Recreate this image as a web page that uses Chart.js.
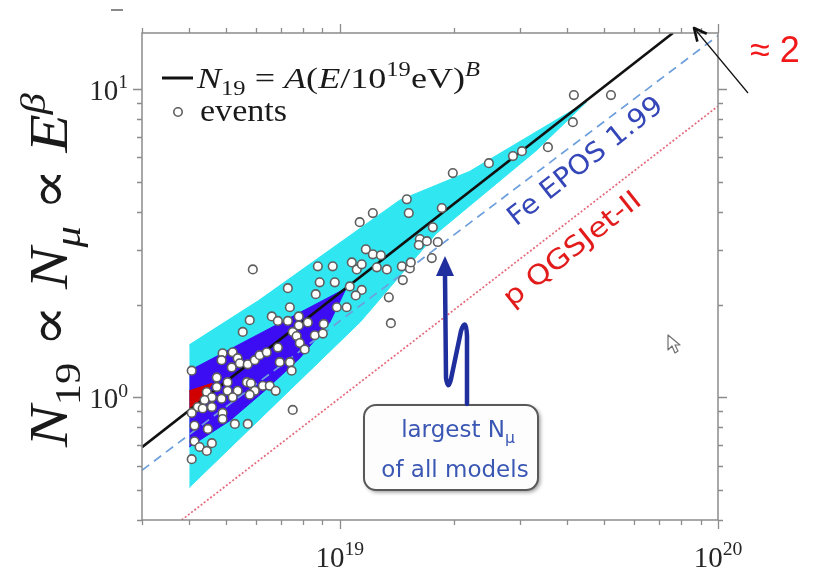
<!DOCTYPE html>
<html>
<head>
<meta charset="utf-8">
<script src="https://cdn.jsdelivr.net/npm/chart.js@4/dist/chart.umd.min.js"></script>
<style>
  html, body { margin: 0; padding: 0; background: #ffffff; }
  #wrap { width: 813px; height: 571px; position: relative; }
</style>
</head>
<body>
<div id="wrap"><canvas id="c" width="813" height="571"></canvas></div>
<script>
// ---- data -----------------------------------------------------------------
// Reconstructed air-shower events: energy (EeV) and normalised muon number N19
const eventEnergyEeV = [
  7.38, 9.82, 10.43, 5.78, 6.61, 6.86, 7.29, 7.79, 7.79, 8.23, 9.07, 5.54, 7.51, 7.69, 8.59, 9.02,
  7.84, 8.08, 6.86, 4.90, 5.21, 5.37, 4.87, 5.18, 5.44, 5.71, 5.96, 6.14, 6.41, 6.94, 7.38, 7.46,
  4.06, 4.73, 5.05, 5.68, 5.82, 4.73, 4.45, 5.05, 5.37, 5.96, 6.26, 6.53, 6.77, 4.59, 4.87, 5.21,
  5.78, 4.39, 4.21, 4.34, 4.59, 4.90, 7.51, 4.13, 4.48, 5.28, 5.71, 4.90, 4.13, 4.26, 4.59, 4.45,
  4.06, 4.06,
  5.89, 7.29, 8.75, 9.58, 8.85, 9.70, 8.64, 10.76, 11.09, 11.43, 11.72, 12.23, 12.84, 12.53, 13.32,
  14.59, 15.32, 15.41, 14.68, 10.63, 11.43, 11.02, 13.48, 11.29, 12.23, 15.22, 15.04, 16.28, 16.99,
  16.18, 17.62, 17.51, 19.90, 18.61, 18.16, 13.65,
  41.59, 52.12, 41.33, 35.51, 30.31, 28.70, 24.79
];
const eventN19 = [
  1.96, 1.96, 1.96, 1.78, 1.83, 1.77, 1.77, 1.83, 1.71, 1.75, 1.73, 1.63, 1.63, 1.58, 1.59, 1.61,
  1.50, 1.43, 1.45, 1.39, 1.40, 1.34, 1.32, 1.25, 1.29, 1.28, 1.32, 1.37, 1.40, 1.30, 1.30, 1.22,
  1.22, 1.16, 1.12, 1.12, 1.11, 1.08, 1.04, 1.05, 1.05, 1.05, 1.09, 1.09, 1.05, 1.00, 0.99, 1.00,
  1.02, 0.98, 0.93, 0.92, 0.93, 0.89, 0.91, 0.81, 0.79, 0.82, 0.82, 0.85, 0.72, 0.69, 0.71, 0.67,
  0.63, 0.89,
  2.60, 2.26, 2.66, 2.66, 2.36, 2.36, 2.16, 2.74, 2.60, 2.70, 3.02, 2.91, 2.89, 2.64, 2.60,
  2.66, 2.62, 2.74, 2.40, 2.29, 2.23, 2.14, 2.11, 3.70, 3.96, 3.96, 4.39, 3.26, 3.21,
  3.12, 3.56, 2.83, 5.34, 4.11, 3.19, 1.74,
  9.56, 9.56, 7.81, 6.48, 6.29, 6.06, 5.75
];

// Power-law fit N19 = A (E/10^19 eV)^B, end points (eV, N19)
const fitEnergy = [3.0e18, 7.6e19];
const fitN19 = [0.689, 15.2];

// Model expectations (eV, N19)
const feEposEnergy = [3.0e18, 1.0e20];
const feEposN19 = [0.58, 14.9];
const pQgsEnergy = [3.82e18, 1.0e20];
const pQgsN19 = [0.40, 8.8];

// Systematic bands (eV, N19): upper and lower edges
const outerUpperE = [4.0e18, 6.1e18, 1.44e19, 2.2e19, 4.5e19];
const outerUpperN = [1.48, 2.06, 4.36, 5.4, 9.1];
const outerLowerE = [4.0e18, 1.13e19, 1.8e19, 3.3e19, 4.5e19];
const outerLowerN = [0.51, 1.75, 3.4, 6.3, 9.1];

const innerUpperE = [4.0e18, 1.04e19];
const innerUpperN = [1.22, 2.26];
const innerLowerE = [4.0e18, 5.12e18, 6.33e18, 7.84e18, 9.41e18, 1.04e19];
const innerLowerN = [0.69, 0.84, 1.05, 1.34, 1.75, 2.26];

const coreUpperE = [4.0e18, 4.6e18];
const coreUpperN = [1.05, 1.11];
const coreLowerE = [4.0e18, 4.3e18, 4.6e18];
const coreLowerN = [0.89, 0.97, 1.11];

// Axis ranges and labelled decades
const xRange = [3.0e18, 1.0e20];
const yRange = [0.4, 15.2];
const xLabelValues = [1e19, 1e20];
const xLabelExponents = ['19', '20'];
const yLabelValues = [1, 10];
const yLabelExponents = ['0', '1'];

// ---- helpers --------------------------------------------------------------
const SERIF = '"Liberation Serif", "DejaVu Serif", serif';
const SANS = '"DejaVu Sans", Verdana, sans-serif';

const pts = (xs, ys, f = 1) => xs.map((x, i) => ({ x: x * f, y: ys[i] }));

function logTicks(min, max) {
  const out = [];
  for (let d = Math.floor(Math.log10(min)); d <= Math.ceil(Math.log10(max)); d++) {
    for (let m = 1; m <= 9; m++) {
      const v = m * Math.pow(10, d);
      if (v >= min * 0.999 && v <= max * 1.001) out.push({ value: v, major: m === 1 });
    }
  }
  return out;
}

function partFont(p, F, fam) {
  const size = (p.sub || p.sup) ? F * 0.68 : F;
  return (p.it ? 'italic ' : '') + size.toFixed(2) + 'px ' + (p.fam || fam);
}
function runWidth(ctx, parts, F, fam) {
  let w = 0;
  for (const p of parts) { ctx.font = partFont(p, F, fam); w += ctx.measureText(p.t).width; }
  return w;
}
function drawRun(ctx, parts, x, y, F, fam) {
  let cx = x;
  for (const p of parts) {
    ctx.font = partFont(p, F, fam);
    const dy = p.sub ? F * 0.24 : (p.sup ? -F * 0.40 : 0);
    ctx.fillText(p.t, cx, y + dy);
    cx += ctx.measureText(p.t).width;
  }
  return cx - x;
}
// draw a rich run stretched horizontally to a given width, starting at x
function drawRunFit(ctx, parts, x, y, F, fam, width) {
  const w = runWidth(ctx, parts, F, fam);
  ctx.save();
  ctx.translate(x, y);
  ctx.scale(width / w, 1);
  drawRun(ctx, parts, 0, 0, F, fam);
  ctx.restore();
}

// ---- custom drawing: frame, ticks, labels, legend and notes ---------------
const decor = {
  id: 'decor',
  afterDatasetsDraw(chart) {
    const ctx = chart.ctx;
    const xs = chart.scales.x, ys = chart.scales.y;
    const a = chart.chartArea;
    ctx.save();
    ctx.textBaseline = 'alphabetic';

    // frame
    ctx.strokeStyle = '#8c8c8c';
    ctx.lineWidth = 1.5;
    ctx.strokeRect(a.left, a.top, a.right - a.left, a.bottom - a.top);

    // outward tick marks on all four sides
    ctx.lineWidth = 1.3;
    ctx.beginPath();
    for (const t of xs.ticks) {
      const px = Math.round(xs.getPixelForValue(t.value)) + 0.5;
      const L = t.major ? 9 : 5;
      ctx.moveTo(px, a.bottom); ctx.lineTo(px, a.bottom + L);
      ctx.moveTo(px, a.top); ctx.lineTo(px, a.top - L);
    }
    for (const t of ys.ticks) {
      const py = Math.round(ys.getPixelForValue(t.value)) + 0.5;
      const L = t.major ? 9 : 5;
      ctx.moveTo(a.left, py); ctx.lineTo(a.left - L, py);
      ctx.moveTo(a.right, py); ctx.lineTo(a.right + L, py);
    }
    ctx.stroke();

    // tick labels 10^n
    ctx.fillStyle = '#262626';
    const TF = 29;
    xLabelValues.forEach((v, i) => {
      const parts = [{ t: '10' }, { t: xLabelExponents[i], sup: true }];
      const w = runWidth(ctx, parts, TF, SERIF);
      const px = xs.getPixelForValue(v);
      drawRun(ctx, parts, px - w / 2, 567, TF, SERIF);
    });
    yLabelValues.forEach((v, i) => {
      const parts = [{ t: '10' }, { t: yLabelExponents[i], sup: true }];
      const w = runWidth(ctx, parts, TF, SERIF);
      const py = ys.getPixelForValue(v);
      drawRun(ctx, parts, 128 - w, py + 11, TF, SERIF);
    });

    // y-axis title, reading upward
    ctx.fillStyle = '#1a1a1a';
    const title = [
      { t: 'N', it: true }, { t: '19', sub: true }, { t: ' \u221D ' },
      { t: 'N', it: true }, { t: '\u03BC', it: true, sub: true }, { t: ' \u221D ' },
      { t: 'E', it: true }, { t: '\u03B2', it: true, sup: true }
    ];
    const TTF = 54;
    const tw = runWidth(ctx, title, TTF, SERIF);
    ctx.save();
    ctx.translate(67, 270);
    ctx.rotate(-Math.PI / 2);
    ctx.scale(354 / tw, 1);
    drawRun(ctx, title, -tw / 2, 0, TTF, SERIF);
    ctx.restore();

    // legend
    ctx.strokeStyle = '#111111';
    ctx.lineWidth = 3;
    ctx.beginPath(); ctx.moveTo(162, 78); ctx.lineTo(193, 78); ctx.stroke();
    ctx.fillStyle = '#1a1a1a';
    const legFit = [
      { t: 'N', it: true }, { t: '19', sub: true }, { t: ' = ' }, { t: 'A', it: true }, { t: '(' },
      { t: 'E', it: true }, { t: '/10' }, { t: '19', sup: true }, { t: 'eV)' }, { t: 'B', it: true, sup: true }
    ];
    drawRunFit(ctx, legFit, 197, 88, 30, SERIF, 283);
    ctx.beginPath(); ctx.arc(178, 112, 4.2, 0, Math.PI * 2);
    ctx.fillStyle = '#ffffff'; ctx.fill();
    ctx.lineWidth = 1.6; ctx.strokeStyle = '#5e5e5e'; ctx.stroke();
    ctx.fillStyle = '#1a1a1a';
    drawRunFit(ctx, [{ t: 'events' }], 200, 121, 31, SERIF, 87);

    // model labels along the lines
    const rotText = (txt, cx, cy, ang, F, color, L) => {
      ctx.save();
      ctx.translate(cx, cy);
      ctx.rotate(ang);
      ctx.font = F + 'px ' + SANS;
      const w = ctx.measureText(txt).width;
      ctx.scale(L / w, 1);
      ctx.fillStyle = color;
      ctx.textAlign = 'center';
      ctx.textBaseline = 'middle';
      ctx.fillText(txt, 0, 0);
      ctx.restore();
    };
    rotText('Fe EPOS 1.99', 586, 162, -38.5 * Math.PI / 180, 27, '#3446b8', 190);
    rotText('p QGSJet-II', 573, 250, -38.5 * Math.PI / 180, 27, '#e21b1b', 168);

    // note box with squiggly arrow
    ctx.save();
    ctx.shadowColor = 'rgba(0,0,0,0.45)';
    ctx.shadowBlur = 4; ctx.shadowOffsetX = 2; ctx.shadowOffsetY = 2;
    ctx.beginPath();
    ctx.roundRect(364, 405, 174, 85, 12);
    ctx.fillStyle = '#fdfdfd'; ctx.fill();
    ctx.restore();
    ctx.beginPath();
    ctx.roundRect(364, 405, 174, 85, 12);
    ctx.lineWidth = 2; ctx.strokeStyle = '#595959'; ctx.stroke();

    ctx.fillStyle = '#3a57b4';
    const boxF = 23;
    const l1 = [{ t: 'largest N' }, { t: '\u03BC', sub: true }];
    const l2 = [{ t: 'of all models' }];
    const w1 = runWidth(ctx, l1, boxF, SANS), w2 = runWidth(ctx, l2, boxF, SANS);
    drawRun(ctx, l1, 458 - w1 / 2, 437, boxF, SANS);
    drawRun(ctx, l2, 455 - w2 / 2, 477, boxF, SANS);

    ctx.strokeStyle = '#1f2f9e';
    ctx.lineWidth = 4.5;
    ctx.lineCap = 'round'; ctx.lineJoin = 'round';
    ctx.beginPath();
    ctx.moveTo(467, 404);
    ctx.lineTo(467, 336);
    ctx.quadraticCurveTo(466, 316, 461, 331);
    ctx.lineTo(451, 379);
    ctx.quadraticCurveTo(448, 392, 446, 378);
    ctx.lineTo(445, 274);
    ctx.stroke();
    ctx.beginPath();
    ctx.moveTo(445, 256); ctx.lineTo(436, 276); ctx.lineTo(454, 276); ctx.closePath();
    ctx.fillStyle = '#1f2f9e'; ctx.fill();

    // slope note at top right
    ctx.fillStyle = '#f01818';
    ctx.font = '36px "Liberation Sans", Arial, sans-serif';
    ctx.fillText('\u2248 2', 750, 62);
    ctx.strokeStyle = '#111111';
    ctx.lineWidth = 1.2;
    ctx.lineCap = 'butt';
    ctx.beginPath(); ctx.moveTo(748, 93); ctx.lineTo(694, 28); ctx.stroke();
    const ux = (694 - 748), uy = (28 - 93), ul = Math.hypot(ux, uy);
    const dx = ux / ul, dy = uy / ul;
    const wing = (s) => {
      const c = Math.cos(s), sn = Math.sin(s);
      return [694 - 14 * (dx * c - dy * sn), 28 - 14 * (dx * sn + dy * c)];
    };
    const wa = wing(0.45), wb = wing(-0.45);
    ctx.lineWidth = 2.6;
    ctx.beginPath(); ctx.moveTo(wa[0], wa[1]); ctx.lineTo(694, 28); ctx.lineTo(wb[0], wb[1]); ctx.stroke();

    // small dash in the top-left corner
    ctx.strokeStyle = '#8a8a8a'; ctx.lineWidth = 2;
    ctx.beginPath(); ctx.moveTo(111, 10); ctx.lineTo(123, 10); ctx.stroke();

    // pointer glyph
    ctx.beginPath();
    ctx.moveTo(668, 335); ctx.lineTo(668, 350); ctx.lineTo(672, 346); ctx.lineTo(675, 353);
    ctx.lineTo(678, 351); ctx.lineTo(675, 345); ctx.lineTo(680, 345); ctx.closePath();
    ctx.fillStyle = '#ffffff'; ctx.fill();
    ctx.strokeStyle = '#707070'; ctx.lineWidth = 1.2; ctx.stroke();

    ctx.restore();
  }
};

// ---- chart -----------------------------------------------------------------
const bandStyle = (color) => ({
  showLine: true, pointRadius: 0, borderWidth: 1, borderColor: color, backgroundColor: color, tension: 0
});

new Chart(document.getElementById('c'), {
  type: 'line',
  data: {
    datasets: [
      { label: 'events', data: pts(eventEnergyEeV, eventN19, 1e18), showLine: false,
        pointRadius: 4.3, pointBorderWidth: 1.6, pointBorderColor: '#5e5e5e',
        pointBackgroundColor: '#ffffff', order: 1 },
      { label: 'fit', data: pts(fitEnergy, fitN19), showLine: true, borderColor: '#111111',
        borderWidth: 2.6, pointRadius: 0, order: 2 },
      { label: 'Fe EPOS', data: pts(feEposEnergy, feEposN19), showLine: true, borderColor: '#6d9fdc',
        borderWidth: 1.7, borderDash: [9, 6], pointRadius: 0, order: 3 },
      { label: 'p QGSJet-II', data: pts(pQgsEnergy, pQgsN19), showLine: true, borderColor: '#e4697a',
        borderWidth: 1.7, borderDash: [2, 2], pointRadius: 0, order: 3 },
      { label: 'outer upper', data: pts(outerUpperE, outerUpperN), ...bandStyle('#30e6f1'), fill: false, order: 6 },
      { label: 'outer lower', data: pts(outerLowerE, outerLowerN), ...bandStyle('#30e6f1'), fill: '-1', order: 6 },
      { label: 'inner upper', data: pts(innerUpperE, innerUpperN), ...bandStyle('#3c0cf2'), fill: false, order: 5 },
      { label: 'inner lower', data: pts(innerLowerE, innerLowerN), ...bandStyle('#3c0cf2'), fill: '-1', order: 5 },
      { label: 'core upper', data: pts(coreUpperE, coreUpperN), ...bandStyle('#d00000'), fill: false, order: 4 },
      { label: 'core lower', data: pts(coreLowerE, coreLowerN), ...bandStyle('#d00000'), fill: '-1', order: 4 }
    ]
  },
  options: {
    responsive: false,
    animation: false,
    devicePixelRatio: 1,
    events: [],
    layout: { padding: { left: 0, top: 33, right: 95, bottom: 0 } },
    plugins: { legend: { display: false }, tooltip: { enabled: false } },
    scales: {
      x: {
        type: 'logarithmic', min: xRange[0], max: xRange[1],
        grid: { display: false }, border: { display: false },
        ticks: { display: false },
        afterBuildTicks: (s) => { s.ticks = logTicks(xRange[0], xRange[1]); },
        afterFit: (s) => { s.height = 51; }
      },
      y: {
        type: 'logarithmic', min: yRange[0], max: yRange[1],
        grid: { display: false }, border: { display: false },
        ticks: { display: false },
        afterBuildTicks: (s) => { s.ticks = logTicks(yRange[0], yRange[1]); },
        afterFit: (s) => { s.width = 142; }
      }
    }
  },
  plugins: [decor]
});
</script>
</body>
</html>
